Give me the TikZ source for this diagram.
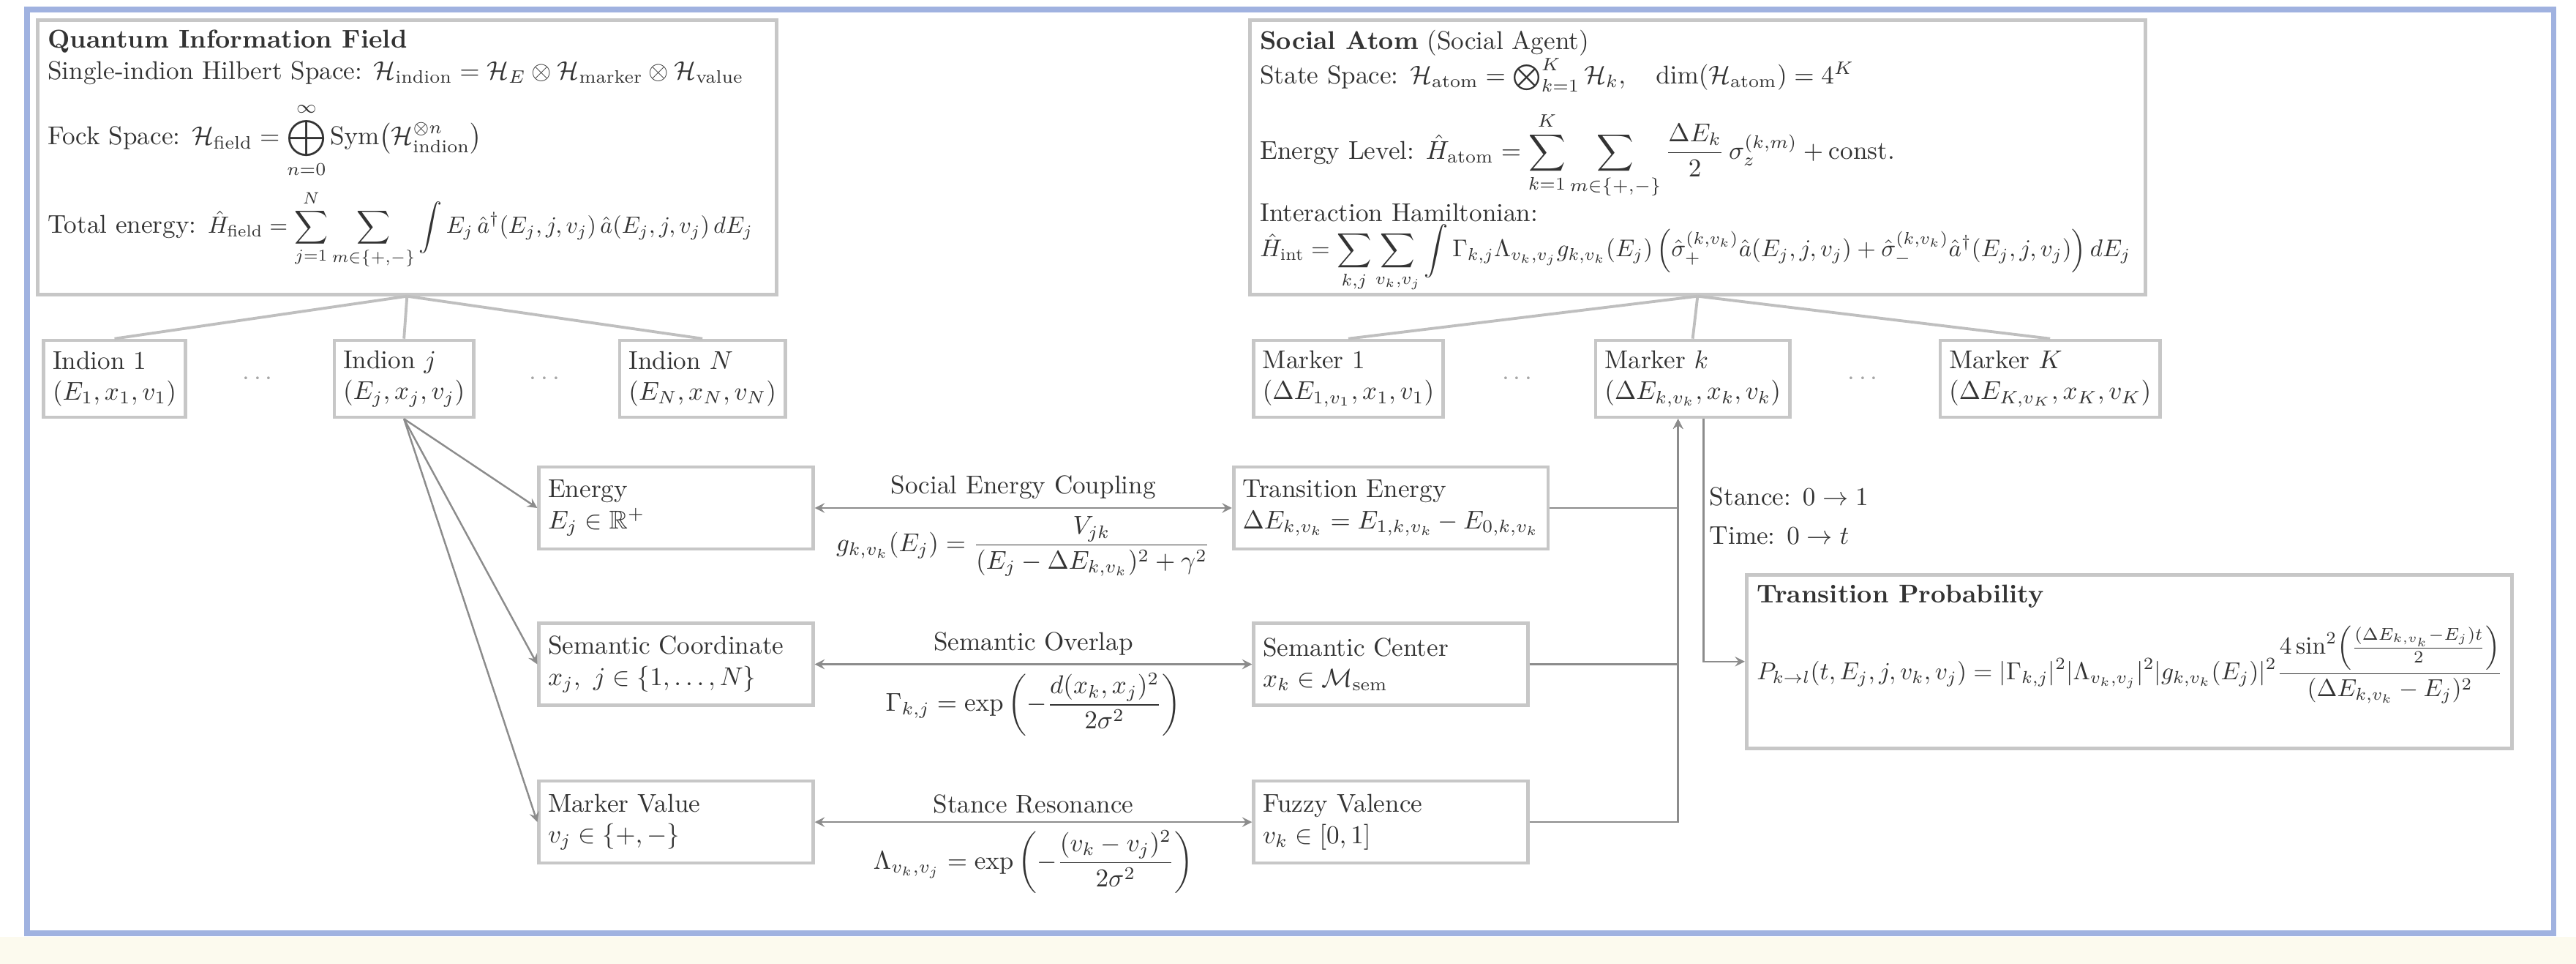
\documentclass[tikz,border=0pt]{standalone}
\usepackage{amsmath, amssymb}
\usepackage{graphicx}
\usepackage{tikz}
\usetikzlibrary{arrows, positioning, calc}

\definecolor{frameblue}{RGB}{160,178,224}
\definecolor{paper}{RGB}{252,250,238}

\begin{document}
\begin{tikzpicture}[
    % 1. 공통 스타일
    >=stealth,
    panel/.style={draw=black!22, line width=1.3pt, rectangle, anchor=north west, inner sep=4pt, text=black!80},
    leaf/.style={draw=black!22, line width=1.3pt, rectangle, align=left, minimum height=1.05cm, inner sep=3.5pt, text=black!80},
    block/.style={draw=black!22, line width=1.3pt, rectangle, align=left, text width=3.5cm, minimum height=1.12cm, inner sep=3.5pt, text=black!80},
    gap/.style={text=black!35},
    coupling/.style={text=black!80, inner sep=3pt},
    tree/.style={draw=black!25, line width=1.1pt},
    flow/.style={->, draw=black!45, line width=0.7pt},
    link/.style={<->, draw=black!45, line width=0.7pt}
]

    % 캔버스와 바깥 테두리
    \useasboundingbox (0,0) rectangle (35.21,-13.17);
    \fill[paper] (0,-12.80) rectangle (35.21,-13.17);
    \draw[frameblue, line width=2pt] (0.37,-0.13) rectangle (34.90,-12.75);

    % =================================================================
    % I. 양자 정보장 / 사회 원자 상자
    % =================================================================
    \node[panel] (qif) at (0.49,-0.25) {\parbox[t][3.47cm][t]{9.82cm}{%
        \textbf{Quantum Information Field}\\
        Single-indion Hilbert Space: $\mathcal{H}_{\text{indion}} = \mathcal{H}_E \otimes \mathcal{H}_{\text{marker}} \otimes \mathcal{H}_{\text{value}}$\\[6pt]
        Fock Space: $\displaystyle \mathcal{H}_{\text{field}} = \bigoplus_{n=0}^{\infty} \mathrm{Sym}\bigl(\mathcal{H}_{\text{indion}}^{\otimes n}\bigr)$\\[4pt]
        Total energy: \resizebox{7.45cm}{!}{$\displaystyle \hat{H}_{\text{field}} = \sum_{j=1}^{N} \sum_{m\in\{+,-\}} \int E_j\, \hat{a}^{\dagger}(E_j, j, v_j)\,\hat{a}(E_j, j, v_j)\, dE_j$}}};

    \node[panel] (atom) at (17.06,-0.25) {\parbox[t][3.47cm][t]{11.96cm}{%
        \textbf{Social Atom} (Social Agent)\\
        State Space: $\mathcal{H}_{\text{atom}} = \bigotimes_{k=1}^{K} \mathcal{H}_k, \quad \dim(\mathcal{H}_{\text{atom}}) = 4^K$\\[7pt]
        Energy Level: $\displaystyle \hat{H}_{\text{atom}} = \sum_{k=1}^{K} \sum_{m\in\{+,-\}} \frac{\Delta E_k}{2}\, \sigma_z^{(k,m)} + \text{const.}$\\[1pt]
        Interaction Hamiltonian:\\
        \resizebox{11.9cm}{!}{$\displaystyle \hat{H}_{\text{int}} = \sum_{k,j} \sum_{v_k,v_j} \int \Gamma_{k,j} \Lambda_{v_k,v_j} g_{k,v_k}(E_j) \left(\hat{\sigma}_+^{(k,v_k)} \hat{a}(E_j, j, v_j) + \hat{\sigma}_-^{(k,v_k)} \hat{a}^{\dagger}(E_j, j, v_j)\right) dE_j$}}};

    % =================================================================
    % II. 인디온 / 마커 줄
    % =================================================================
    \node[leaf] (ind1) at (1.565,-5.175) {Indion 1\\$(E_1, x_1, v_1)$};
    \node[leaf] (indj) [right=1.99cm of ind1] {Indion $j$\\$(E_j, x_j, v_j)$};
    \node[leaf] (indN) [right=1.95cm of indj] {Indion $N$\\$(E_N, x_N, v_N)$};
    \node[gap] (dotsA) at ($(ind1.east)!0.5!(indj.west)$) {$\cdots$};
    \node[gap] (dotsB) at ($(indj.east)!0.5!(indN.west)$) {$\cdots$};

    \node[leaf] (mk1) at (18.43,-5.175) {Marker 1\\$(\Delta E_{1,v_1}, x_1, v_1)$};
    \node[leaf] (mkk) [right=2.04cm of mk1] {Marker $k$\\$(\Delta E_{k,v_k}, x_k, v_k)$};
    \node[leaf] (mkK) [right=2.01cm of mkk] {Marker $K$\\$(\Delta E_{K,v_K}, x_K, v_K)$};
    \node[gap] (dotsC) at ($(mk1.east)!0.5!(mkk.west)$) {$\cdots$};
    \node[gap] (dotsD) at ($(mkk.east)!0.5!(mkK.west)$) {$\cdots$};

    \draw[tree] (qif.south) -- (ind1.north);
    \draw[tree] (qif.south) -- (indj.north);
    \draw[tree] (qif.south) -- (indN.north);
    \draw[tree] (atom.south) -- (mk1.north);
    \draw[tree] (atom.south) -- (mkk.north);
    \draw[tree] (atom.south) -- (mkK.north);

    % =================================================================
    % III. 속성 상자와 결합 (coupling)
    % =================================================================
    \node[block] (energy) at (9.24,-6.94) {Energy\\$E_j \in \mathbb{R}^+$};
    \node[block] (semcoord) [below=0.97cm of energy] {Semantic Coordinate\\$x_j,\ j \in \{1, \dots, N\}$};
    \node[block] (mvalue) [below=0.99cm of semcoord] {Marker Value\\$v_j \in \{+, -\}$};

    \node[block, text width=4.05cm] (tenergy) at (19.01,-6.94) {Transition Energy\\$\Delta E_{k,v_k} = E_{1,k,v_k} - E_{0,k,v_k}$};
    \node[block] (semcenter) at (semcoord -| tenergy) {Semantic Center\\$x_k \in \mathcal{M}_{\text{sem}}$};
    \node[block] (fvalence) at (mvalue -| tenergy) {Fuzzy Valence\\$v_k \in [0, 1]$};

    \draw[flow] (indj.south) -- (energy.west);
    \draw[flow] (indj.south) -- (semcoord.west);
    \draw[flow] (indj.south) -- (mvalue.west);

    \draw[link] (energy) -- (tenergy)
        node[coupling, midway, above] {Social Energy Coupling}
        node[coupling, midway, below] {$\displaystyle g_{k,v_k}(E_j) = \frac{V_{jk}}{(E_j - \Delta E_{k,v_k})^2 + \gamma^2}$};
    \draw[link] (semcoord) -- (semcenter)
        node[coupling, midway, above] {Semantic Overlap}
        node[coupling, midway, below] {$\displaystyle \Gamma_{k,j} = \exp\left(-\frac{d(x_k, x_j)^2}{2\sigma^2}\right)$};
    \draw[link] (mvalue) -- (fvalence)
        node[coupling, midway, above] {Stance Resonance}
        node[coupling, midway, below] {$\displaystyle \Lambda_{v_k,v_j} = \exp\left(-\frac{(v_k - v_j)^2}{2\sigma^2}\right)$};

    % =================================================================
    % IV. 마커 k 로 모이고 전이 확률로 나가는 선
    % =================================================================
    \coordinate (mkin) at ($(mkk.south)+(-0.2,0)$);
    \coordinate (mkout) at ($(mkk.south)+(0.15,0)$);
    \draw[flow] (tenergy.east) -| (mkin);
    \draw[flow] (semcenter.east) -| (mkin);
    \draw[flow] (fvalence.east) -| (mkin);

    \node[panel] (tprob) at (23.85,-7.83) {\parbox[t][2.09cm][t]{10.18cm}{%
        \textbf{Transition Probability}\\[6pt]
        \resizebox{10.2cm}{!}{$\displaystyle P_{k\to l}(t, E_j, j, v_k, v_j) = |\Gamma_{k,j}|^2 |\Lambda_{v_k,v_j}|^2 |g_{k,v_k}(E_j)|^2 \frac{4\sin^2\!\left(\frac{(\Delta E_{k,v_k} - E_j)t}{2}\right)}{(\Delta E_{k,v_k} - E_j)^2}$}}};

    \draw[flow] (mkout) |- (tprob.west)
        node[pos=0.2, anchor=west, align=left, text=black!80, inner sep=2pt] {Stance: $0 \to 1$\\[3pt]Time: $0 \to t$};

\end{tikzpicture}
\end{document}
